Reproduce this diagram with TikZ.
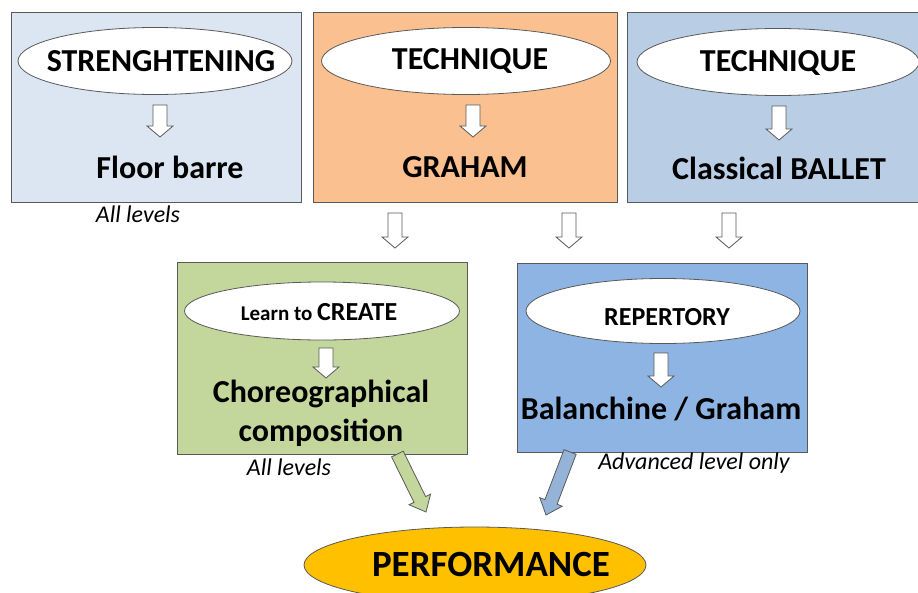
\documentclass[tikz,border=0pt]{standalone}
\usepackage{fontspec}
\setmainfont{Carlito}
\usetikzlibrary{shapes.geometric,calc}
\definecolor{strengthfill}{HTML}{DCE6F2}
\definecolor{grahamfill}{HTML}{FAC090}
\definecolor{balletfill}{HTML}{B9CDE5}
\definecolor{createfill}{HTML}{C3D69B}
\definecolor{repfill}{HTML}{8DB4E2}
\definecolor{repshaft}{HTML}{95B3D7}
\definecolor{perffill}{HTML}{FFC000}
\definecolor{edgegray}{HTML}{595959}
% fat arrow from #1 to #2, filled with #3
\newcommand{\fatarrow}[3]{%
  \coordinate (hb) at ($(#2)!14pt!(#1)$);
  \draw[edgegray,fill=#3,line width=0.8pt]
    ($(#1)!6.5pt!90:(#2)$) -- ($(hb)!6.5pt!90:(#2)$) -- ($(hb)!12pt!90:(#2)$)
    -- (#2) -- ($(hb)!12pt!-90:(#2)$) -- ($(hb)!6.5pt!-90:(#2)$)
    -- ($(#1)!6.5pt!-90:(#2)$) -- cycle;}
\begin{document}
\begin{tikzpicture}[x=1pt,y=-1pt,inner sep=0pt,outer sep=0pt,
panel/.style={draw=edgegray,rectangle,line width=0.8pt},
oval/.style={draw=edgegray,ellipse,fill=white,line width=0.8pt},
head/.style={font=\bfseries\fontsize{32}{36}\selectfont},
big/.style={font=\bfseries\fontsize{32}{39}\selectfont,align=center},
note/.style={font=\itshape\fontsize{24}{28}\selectfont},
downarrow/.pic={\draw[edgegray,fill=white,line width=0.8pt] (-7,0) -- (7,0) -- (7,#1-11) -- (13,#1-11) -- (0,#1) -- (-13,#1-11) -- (-7,#1-11) -- cycle;}]
\useasboundingbox (0,0) rectangle (918,592);
% top row
\draw (156,107) node[panel,fill=strengthfill,minimum width=290,minimum height=190] (floor) {};
\draw (465,107) node[panel,fill=grahamfill,minimum width=304,minimum height=190] (graham) {};
\draw (772.5,107) node[panel,fill=balletfill,minimum width=291,minimum height=190] (ballet) {};
\draw (155,61) node[oval,minimum width=274,minimum height=67] (strength) {};
\draw (466,61) node[oval,minimum width=289,minimum height=67] (tech1) {};
\draw (778,62) node[oval,minimum width=282,minimum height=67] (tech2) {};
\draw (161,61) node[head] (strengthText) {STRENGHTENING};
\draw (470,61) node[head] (tech1Text) {TECHNIQUE};
\draw (778,63) node[head] (tech2Text) {TECHNIQUE};
\pic at (160,105) {downarrow=32};
\pic at (473,105) {downarrow=32};
\pic at (779,106) {downarrow=34};
\draw (170,167) node[big] (floorText) {Floor barre};
\draw (465,167) node[big] (grahamText) {GRAHAM};
\draw (779,168) node[big] (balletText) {Classical BALLET};
\draw (138,214) node[note] (allA) {All levels};
% between rows
\pic at (395,213) {downarrow=35};
\pic at (569,213) {downarrow=35};
\pic at (729,213) {downarrow=35};
% middle row
\draw (322,358) node[panel,fill=createfill,minimum width=290,minimum height=192] (comp) {};
\draw (662,357.5) node[panel,fill=repfill,minimum width=290,minimum height=189] (rep) {};
\draw (322,311) node[oval,minimum width=275,minimum height=58] (create) {};
\draw (663,311) node[oval,minimum width=274,minimum height=65] (repert) {};
\draw (319,312) node[font=\bfseries] (createText) {\fontsize{21}{25}\selectfont Learn to \fontsize{26}{30}\selectfont CREATE};
\draw (667,317) node[font=\bfseries\fontsize{26}{30}\selectfont] (repertText) {REPERTORY};
\pic at (326,348) {downarrow=30};
\pic at (661,353) {downarrow=34};
\draw (321,413) node[big] (compText) {Choreographical\\composition};
\draw (661,409) node[big] (repText) {Balanchine / Graham};
\draw (289,467) node[note] (allB) {All levels};
\draw (694,463) node[note] (advanced) {Advanced level only};
% performance
\draw (475,565) node[draw=edgegray,ellipse,fill=perffill,line width=0.8pt,minimum width=342,minimum height=76] (perf) {};
\draw (491,564) node[font=\bfseries\fontsize{37}{42}\selectfont] (perfText) {PERFORMANCE};
\coordinate (compOut) at ($(comp.south west)!0.76!(comp.south east)$);
\coordinate (repOut) at ($(rep.south west)!0.183!(rep.south east)$);
\coordinate (perfInA) at ($(perf.north)+(-49,-15)$);
\coordinate (perfInB) at ($(perf.north)+(71,-12)$);
\fatarrow{compOut}{perfInA}{createfill}
\fatarrow{repOut}{perfInB}{repshaft}
\end{tikzpicture}
\end{document}
